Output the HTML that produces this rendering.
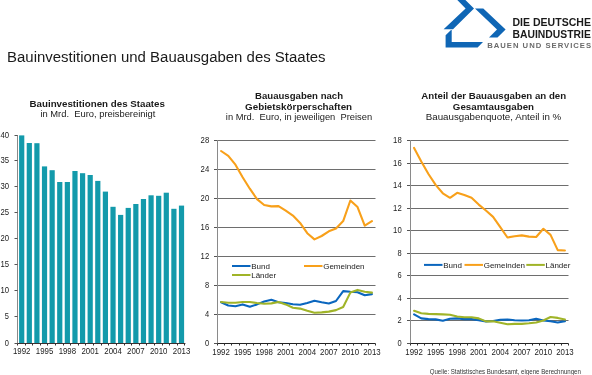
<!DOCTYPE html><html><head><meta charset="utf-8"><style>html,body{margin:0;padding:0;background:#fff;width:592px;height:375px;overflow:hidden}svg{display:block;will-change:transform}text{font-family:"Liberation Sans",sans-serif}</style></head><body>
<svg width="592" height="375" viewBox="0 0 592 375">
<rect width="592" height="375" fill="#fff"/>
<g fill="#0f66b5">
<polygon points="457.3,0 465.4,0 474,8.4 453,29.2 443.6,29.2 465.6,8.4"/>
<polygon points="475,8.4 483.3,8.4 505.6,29.6 497.5,37.6 489,37.6 497,29.6"/>
<polygon points="445.6,35.3 451,30 451.7,30 451.7,42 483,42 477.6,47.6 445.6,47.6"/>
</g>
<text x="512.5" y="26.4" font-size="11" fill="#1a1a1a" font-weight="bold" textLength="78.41" lengthAdjust="spacingAndGlyphs">DIE DEUTSCHE</text>
<text x="512.5" y="37.6" font-size="11" fill="#1a1a1a" font-weight="bold" textLength="78.31" lengthAdjust="spacingAndGlyphs">BAUINDUSTRIE</text>
<text x="487.18" y="47.6" font-size="7.7" fill="#6b6b6b" font-weight="bold" textLength="103.92" lengthAdjust="spacing">BAUEN UND SERVICES</text>
<text x="7.05" y="62" font-size="14" fill="#1a1a1a" textLength="318.55" lengthAdjust="spacingAndGlyphs">Bauinvestitionen und Bauausgaben des Staates</text>
<text x="29.55" y="106.6" font-size="9.5" fill="#1a1a1a" font-weight="bold" textLength="135.38" lengthAdjust="spacingAndGlyphs">Bauinvestitionen des Staates</text>
<text x="40.4" y="117.4" font-size="9.5" fill="#1a1a1a" textLength="114.99" lengthAdjust="spacingAndGlyphs">in Mrd.&#160; Euro, preisbereinigt</text>
<text x="255.05" y="99" font-size="9.5" fill="#1a1a1a" font-weight="bold" textLength="87.99" lengthAdjust="spacingAndGlyphs">Bauausgaben nach</text>
<text x="245.02" y="109.6" font-size="9.5" fill="#1a1a1a" font-weight="bold" textLength="107.1" lengthAdjust="spacingAndGlyphs">Gebietskörperschaften</text>
<text x="225.85" y="119.9" font-size="9.5" fill="#1a1a1a" textLength="146.27" lengthAdjust="spacingAndGlyphs">in Mrd.&#160; Euro, in jeweiligen&#160; Preisen</text>
<text x="421.38" y="99.2" font-size="9.5" fill="#1a1a1a" font-weight="bold" textLength="144.74" lengthAdjust="spacingAndGlyphs">Anteil der Bauausgaben an den</text>
<text x="452.87" y="109.7" font-size="9.5" fill="#1a1a1a" font-weight="bold" textLength="81.15" lengthAdjust="spacingAndGlyphs">Gesamtausgaben</text>
<text x="425.72" y="120.1" font-size="9.5" fill="#1a1a1a" textLength="135.5" lengthAdjust="spacingAndGlyphs">Bauausgabenquote, Anteil in %</text>
<text x="429.72" y="373.5" font-size="6.3" fill="#333" textLength="151.21" lengthAdjust="spacingAndGlyphs">Quelle: Statistisches Bundesamt, eigene Berechnungen</text>
<rect x="19.1" y="135.4" width="5.2" height="208.1" fill="#139aab"/>
<rect x="26.71" y="143" width="5.2" height="200.5" fill="#139aab"/>
<rect x="34.32" y="143.2" width="5.2" height="200.3" fill="#139aab"/>
<rect x="41.93" y="166.4" width="5.2" height="177.1" fill="#139aab"/>
<rect x="49.54" y="170.2" width="5.2" height="173.3" fill="#139aab"/>
<rect x="57.15" y="182" width="5.2" height="161.5" fill="#139aab"/>
<rect x="64.76" y="182" width="5.2" height="161.5" fill="#139aab"/>
<rect x="72.37" y="171" width="5.2" height="172.5" fill="#139aab"/>
<rect x="79.98" y="173.2" width="5.2" height="170.3" fill="#139aab"/>
<rect x="87.59" y="175" width="5.2" height="168.5" fill="#139aab"/>
<rect x="95.2" y="180.9" width="5.2" height="162.6" fill="#139aab"/>
<rect x="102.81" y="191.6" width="5.2" height="151.9" fill="#139aab"/>
<rect x="110.42" y="206.8" width="5.2" height="136.7" fill="#139aab"/>
<rect x="118.03" y="214.9" width="5.2" height="128.6" fill="#139aab"/>
<rect x="125.64" y="207.9" width="5.2" height="135.6" fill="#139aab"/>
<rect x="133.25" y="204" width="5.2" height="139.5" fill="#139aab"/>
<rect x="140.86" y="199" width="5.2" height="144.5" fill="#139aab"/>
<rect x="148.47" y="195.3" width="5.2" height="148.2" fill="#139aab"/>
<rect x="156.08" y="195.8" width="5.2" height="147.7" fill="#139aab"/>
<rect x="163.69" y="192.7" width="5.2" height="150.8" fill="#139aab"/>
<rect x="171.3" y="208.8" width="5.2" height="134.7" fill="#139aab"/>
<rect x="178.91" y="205.6" width="5.2" height="137.9" fill="#139aab"/>
<line x1="17.5" y1="135" x2="17.5" y2="343.5" stroke="#8a8a8a" stroke-width="1"/>
<line x1="17.5" y1="343.5" x2="185.42" y2="343.5" stroke="#3a3030" stroke-width="1"/>
<line x1="14.5" y1="343.5" x2="17.5" y2="343.5" stroke="#555" stroke-width="1"/>
<text x="9" y="346.4" font-size="8.6" text-anchor="end" fill="#222" textLength="4.15" lengthAdjust="spacingAndGlyphs">0</text>
<line x1="14.5" y1="316.5" x2="17.5" y2="316.5" stroke="#555" stroke-width="1"/>
<text x="9" y="319.4" font-size="8.6" text-anchor="end" fill="#222" textLength="4.15" lengthAdjust="spacingAndGlyphs">5</text>
<line x1="14.5" y1="290.5" x2="17.5" y2="290.5" stroke="#555" stroke-width="1"/>
<text x="9" y="293.4" font-size="8.6" text-anchor="end" fill="#222" textLength="8.6" lengthAdjust="spacingAndGlyphs">10</text>
<line x1="14.5" y1="264.5" x2="17.5" y2="264.5" stroke="#555" stroke-width="1"/>
<text x="9" y="267.4" font-size="8.6" text-anchor="end" fill="#222" textLength="8.6" lengthAdjust="spacingAndGlyphs">15</text>
<line x1="14.5" y1="238.5" x2="17.5" y2="238.5" stroke="#555" stroke-width="1"/>
<text x="9" y="241.4" font-size="8.6" text-anchor="end" fill="#222" textLength="8.6" lengthAdjust="spacingAndGlyphs">20</text>
<line x1="14.5" y1="212.5" x2="17.5" y2="212.5" stroke="#555" stroke-width="1"/>
<text x="9" y="215.4" font-size="8.6" text-anchor="end" fill="#222" textLength="8.6" lengthAdjust="spacingAndGlyphs">25</text>
<line x1="14.5" y1="186.5" x2="17.5" y2="186.5" stroke="#555" stroke-width="1"/>
<text x="9" y="189.4" font-size="8.6" text-anchor="end" fill="#222" textLength="8.6" lengthAdjust="spacingAndGlyphs">30</text>
<line x1="14.5" y1="160.5" x2="17.5" y2="160.5" stroke="#555" stroke-width="1"/>
<text x="9" y="163.4" font-size="8.6" text-anchor="end" fill="#222" textLength="8.6" lengthAdjust="spacingAndGlyphs">35</text>
<line x1="14.5" y1="135.5" x2="17.5" y2="135.5" stroke="#555" stroke-width="1"/>
<text x="9" y="138.4" font-size="8.6" text-anchor="end" fill="#222" textLength="8.6" lengthAdjust="spacingAndGlyphs">40</text>
<line x1="17.5" y1="343.5" x2="17.5" y2="345.5" stroke="#3a3030" stroke-width="1"/>
<line x1="25.5" y1="343.5" x2="25.5" y2="345.5" stroke="#3a3030" stroke-width="1"/>
<line x1="32.5" y1="343.5" x2="32.5" y2="345.5" stroke="#3a3030" stroke-width="1"/>
<line x1="40.5" y1="343.5" x2="40.5" y2="345.5" stroke="#3a3030" stroke-width="1"/>
<line x1="47.5" y1="343.5" x2="47.5" y2="345.5" stroke="#3a3030" stroke-width="1"/>
<line x1="55.5" y1="343.5" x2="55.5" y2="345.5" stroke="#3a3030" stroke-width="1"/>
<line x1="63.5" y1="343.5" x2="63.5" y2="345.5" stroke="#3a3030" stroke-width="1"/>
<line x1="70.5" y1="343.5" x2="70.5" y2="345.5" stroke="#3a3030" stroke-width="1"/>
<line x1="78.5" y1="343.5" x2="78.5" y2="345.5" stroke="#3a3030" stroke-width="1"/>
<line x1="85.5" y1="343.5" x2="85.5" y2="345.5" stroke="#3a3030" stroke-width="1"/>
<line x1="93.5" y1="343.5" x2="93.5" y2="345.5" stroke="#3a3030" stroke-width="1"/>
<line x1="101.5" y1="343.5" x2="101.5" y2="345.5" stroke="#3a3030" stroke-width="1"/>
<line x1="108.5" y1="343.5" x2="108.5" y2="345.5" stroke="#3a3030" stroke-width="1"/>
<line x1="116.5" y1="343.5" x2="116.5" y2="345.5" stroke="#3a3030" stroke-width="1"/>
<line x1="124.5" y1="343.5" x2="124.5" y2="345.5" stroke="#3a3030" stroke-width="1"/>
<line x1="131.5" y1="343.5" x2="131.5" y2="345.5" stroke="#3a3030" stroke-width="1"/>
<line x1="139.5" y1="343.5" x2="139.5" y2="345.5" stroke="#3a3030" stroke-width="1"/>
<line x1="146.5" y1="343.5" x2="146.5" y2="345.5" stroke="#3a3030" stroke-width="1"/>
<line x1="154.5" y1="343.5" x2="154.5" y2="345.5" stroke="#3a3030" stroke-width="1"/>
<line x1="162.5" y1="343.5" x2="162.5" y2="345.5" stroke="#3a3030" stroke-width="1"/>
<line x1="169.5" y1="343.5" x2="169.5" y2="345.5" stroke="#3a3030" stroke-width="1"/>
<line x1="177.5" y1="343.5" x2="177.5" y2="345.5" stroke="#3a3030" stroke-width="1"/>
<line x1="184.5" y1="343.5" x2="184.5" y2="345.5" stroke="#3a3030" stroke-width="1"/>
<text x="21.7" y="354.2" font-size="8.6" text-anchor="middle" fill="#222" textLength="17.49" lengthAdjust="spacingAndGlyphs">1992</text>
<text x="44.54" y="354.2" font-size="8.6" text-anchor="middle" fill="#222" textLength="17.49" lengthAdjust="spacingAndGlyphs">1995</text>
<text x="67.37" y="354.2" font-size="8.6" text-anchor="middle" fill="#222" textLength="17.49" lengthAdjust="spacingAndGlyphs">1998</text>
<text x="90.2" y="354.2" font-size="8.6" text-anchor="middle" fill="#222" textLength="17.49" lengthAdjust="spacingAndGlyphs">2001</text>
<text x="113.03" y="354.2" font-size="8.6" text-anchor="middle" fill="#222" textLength="17.49" lengthAdjust="spacingAndGlyphs">2004</text>
<text x="135.85" y="354.2" font-size="8.6" text-anchor="middle" fill="#222" textLength="17.49" lengthAdjust="spacingAndGlyphs">2007</text>
<text x="158.69" y="354.2" font-size="8.6" text-anchor="middle" fill="#222" textLength="17.49" lengthAdjust="spacingAndGlyphs">2010</text>
<text x="181.52" y="354.2" font-size="8.6" text-anchor="middle" fill="#222" textLength="17.49" lengthAdjust="spacingAndGlyphs">2013</text>
<line x1="217.5" y1="314.5" x2="375.5" y2="314.5" stroke="#6e6e6e" stroke-width="1"/>
<line x1="217.5" y1="285.5" x2="375.5" y2="285.5" stroke="#6e6e6e" stroke-width="1"/>
<line x1="217.5" y1="256.5" x2="375.5" y2="256.5" stroke="#6e6e6e" stroke-width="1"/>
<line x1="217.5" y1="227.5" x2="375.5" y2="227.5" stroke="#6e6e6e" stroke-width="1"/>
<line x1="217.5" y1="198.5" x2="375.5" y2="198.5" stroke="#6e6e6e" stroke-width="1"/>
<line x1="217.5" y1="169.5" x2="375.5" y2="169.5" stroke="#6e6e6e" stroke-width="1"/>
<line x1="217.5" y1="140.5" x2="375.5" y2="140.5" stroke="#6e6e6e" stroke-width="1"/>
<line x1="214" y1="343.5" x2="217.5" y2="343.5" stroke="#555" stroke-width="1"/>
<text x="209.2" y="346.3" font-size="8.6" text-anchor="end" fill="#222" textLength="4.15" lengthAdjust="spacingAndGlyphs">0</text>
<line x1="214" y1="314.5" x2="217.5" y2="314.5" stroke="#555" stroke-width="1"/>
<text x="209.2" y="317.3" font-size="8.6" text-anchor="end" fill="#222" textLength="4.15" lengthAdjust="spacingAndGlyphs">4</text>
<line x1="214" y1="285.5" x2="217.5" y2="285.5" stroke="#555" stroke-width="1"/>
<text x="209.2" y="288.3" font-size="8.6" text-anchor="end" fill="#222" textLength="4.15" lengthAdjust="spacingAndGlyphs">8</text>
<line x1="214" y1="256.5" x2="217.5" y2="256.5" stroke="#555" stroke-width="1"/>
<text x="209.2" y="259.3" font-size="8.6" text-anchor="end" fill="#222" textLength="8.6" lengthAdjust="spacingAndGlyphs">12</text>
<line x1="214" y1="227.5" x2="217.5" y2="227.5" stroke="#555" stroke-width="1"/>
<text x="209.2" y="230.3" font-size="8.6" text-anchor="end" fill="#222" textLength="8.6" lengthAdjust="spacingAndGlyphs">16</text>
<line x1="214" y1="198.5" x2="217.5" y2="198.5" stroke="#555" stroke-width="1"/>
<text x="209.2" y="201.3" font-size="8.6" text-anchor="end" fill="#222" textLength="8.6" lengthAdjust="spacingAndGlyphs">20</text>
<line x1="214" y1="169.5" x2="217.5" y2="169.5" stroke="#555" stroke-width="1"/>
<text x="209.2" y="172.3" font-size="8.6" text-anchor="end" fill="#222" textLength="8.6" lengthAdjust="spacingAndGlyphs">24</text>
<line x1="214" y1="140.5" x2="217.5" y2="140.5" stroke="#555" stroke-width="1"/>
<text x="209.2" y="143.3" font-size="8.6" text-anchor="end" fill="#222" textLength="8.6" lengthAdjust="spacingAndGlyphs">28</text>
<line x1="217.5" y1="140.5" x2="217.5" y2="343.5" stroke="#8a8a8a" stroke-width="1"/>
<line x1="217.5" y1="343.5" x2="375.5" y2="343.5" stroke="#222" stroke-width="1"/>
<line x1="217.5" y1="343.5" x2="217.5" y2="345.5" stroke="#333" stroke-width="1"/>
<line x1="224.5" y1="343.5" x2="224.5" y2="345.5" stroke="#333" stroke-width="1"/>
<line x1="231.5" y1="343.5" x2="231.5" y2="345.5" stroke="#333" stroke-width="1"/>
<line x1="239.5" y1="343.5" x2="239.5" y2="345.5" stroke="#333" stroke-width="1"/>
<line x1="246.5" y1="343.5" x2="246.5" y2="345.5" stroke="#333" stroke-width="1"/>
<line x1="253.5" y1="343.5" x2="253.5" y2="345.5" stroke="#333" stroke-width="1"/>
<line x1="260.5" y1="343.5" x2="260.5" y2="345.5" stroke="#333" stroke-width="1"/>
<line x1="267.5" y1="343.5" x2="267.5" y2="345.5" stroke="#333" stroke-width="1"/>
<line x1="274.5" y1="343.5" x2="274.5" y2="345.5" stroke="#333" stroke-width="1"/>
<line x1="282.5" y1="343.5" x2="282.5" y2="345.5" stroke="#333" stroke-width="1"/>
<line x1="289.5" y1="343.5" x2="289.5" y2="345.5" stroke="#333" stroke-width="1"/>
<line x1="296.5" y1="343.5" x2="296.5" y2="345.5" stroke="#333" stroke-width="1"/>
<line x1="303.5" y1="343.5" x2="303.5" y2="345.5" stroke="#333" stroke-width="1"/>
<line x1="310.5" y1="343.5" x2="310.5" y2="345.5" stroke="#333" stroke-width="1"/>
<line x1="318.5" y1="343.5" x2="318.5" y2="345.5" stroke="#333" stroke-width="1"/>
<line x1="325.5" y1="343.5" x2="325.5" y2="345.5" stroke="#333" stroke-width="1"/>
<line x1="332.5" y1="343.5" x2="332.5" y2="345.5" stroke="#333" stroke-width="1"/>
<line x1="339.5" y1="343.5" x2="339.5" y2="345.5" stroke="#333" stroke-width="1"/>
<line x1="346.5" y1="343.5" x2="346.5" y2="345.5" stroke="#333" stroke-width="1"/>
<line x1="353.5" y1="343.5" x2="353.5" y2="345.5" stroke="#333" stroke-width="1"/>
<line x1="361.5" y1="343.5" x2="361.5" y2="345.5" stroke="#333" stroke-width="1"/>
<line x1="368.5" y1="343.5" x2="368.5" y2="345.5" stroke="#333" stroke-width="1"/>
<line x1="375.5" y1="343.5" x2="375.5" y2="345.5" stroke="#333" stroke-width="1"/>
<text x="221.09" y="354.7" font-size="8.6" text-anchor="middle" fill="#222" textLength="17.49" lengthAdjust="spacingAndGlyphs">1992</text>
<text x="242.64" y="354.7" font-size="8.6" text-anchor="middle" fill="#222" textLength="17.49" lengthAdjust="spacingAndGlyphs">1995</text>
<text x="264.18" y="354.7" font-size="8.6" text-anchor="middle" fill="#222" textLength="17.49" lengthAdjust="spacingAndGlyphs">1998</text>
<text x="285.73" y="354.7" font-size="8.6" text-anchor="middle" fill="#222" textLength="17.49" lengthAdjust="spacingAndGlyphs">2001</text>
<text x="307.27" y="354.7" font-size="8.6" text-anchor="middle" fill="#222" textLength="17.49" lengthAdjust="spacingAndGlyphs">2004</text>
<text x="328.82" y="354.7" font-size="8.6" text-anchor="middle" fill="#222" textLength="17.49" lengthAdjust="spacingAndGlyphs">2007</text>
<text x="350.36" y="354.7" font-size="8.6" text-anchor="middle" fill="#222" textLength="17.49" lengthAdjust="spacingAndGlyphs">2010</text>
<text x="371.91" y="354.7" font-size="8.6" text-anchor="middle" fill="#222" textLength="17.49" lengthAdjust="spacingAndGlyphs">2013</text>
<line x1="232" y1="266" x2="250.5" y2="266" stroke="#0a66be" stroke-width="2"/>
<text x="251.2" y="268.6" font-size="8" fill="#222">Bund</text>
<line x1="304" y1="266" x2="322.5" y2="266" stroke="#f8a01a" stroke-width="2"/>
<text x="323.2" y="268.6" font-size="8" fill="#222">Gemeinden</text>
<line x1="232" y1="275" x2="250.5" y2="275" stroke="#a0b428" stroke-width="2"/>
<text x="251.2" y="277.6" font-size="8" fill="#222">Länder</text>
<path d="M221.09,302.2 C221.09,302.2 228.27,305.5 228.27,305.5 C228.27,305.5 235.45,306.2 235.45,306.2 C235.45,306.2 242.64,304.4 242.64,304.4 C242.64,304.4 249.82,306.8 249.82,306.8 C249.82,306.8 257,304.4 257,304.4 C257,304.4 264.18,301.5 264.18,301.5 C264.18,301.5 271.36,299.8 271.36,299.8 C271.36,299.8 278.55,302.2 278.55,302.2 C278.55,302.2 285.73,303 285.73,303 C285.73,303 292.91,304.2 292.91,304.2 C292.91,304.2 300.09,304.8 300.09,304.8 C300.09,304.8 307.27,302.9 307.27,302.9 C307.27,302.9 314.45,300.7 314.45,300.7 C314.45,300.7 321.64,302.2 321.64,302.2 C321.64,302.2 328.82,303.5 328.82,303.5 C328.82,303.5 336,301 336,301 C336,301 343.18,291.1 343.18,291.1 C343.18,291.1 350.36,291.8 350.36,291.8 C350.36,291.8 357.55,292.3 357.55,292.3 C357.55,292.3 364.73,295.3 364.73,295.3 C364.73,295.3 371.91,294.1 371.91,294.1" fill="none" stroke="#0a66be" stroke-width="2.1" stroke-linejoin="round" stroke-linecap="round"/>
<path d="M221.09,151 C221.09,151 228.27,155.8 228.27,155.8 C228.27,155.8 235.45,164.7 235.45,164.7 C235.45,164.7 242.64,177.2 242.64,177.2 C242.64,177.2 249.82,188.7 249.82,188.7 C249.82,188.7 257,199.1 257,199.1 C257,199.1 264.18,205 264.18,205 C264.18,205 271.36,206.4 271.36,206.4 C271.36,206.4 278.55,206.1 278.55,206.1 C278.55,206.1 285.73,210.6 285.73,210.6 C285.73,210.6 292.91,215.6 292.91,215.6 C292.91,215.6 300.09,222.9 300.09,222.9 C300.09,222.9 307.27,233.2 307.27,233.2 C307.27,233.2 314.45,239.4 314.45,239.4 C314.45,239.4 321.64,236 321.64,236 C321.64,236 328.82,231.3 328.82,231.3 C328.82,231.3 336,228.5 336,228.5 C336,228.5 343.18,221.1 343.18,221.1 C343.18,221.1 350.36,200.5 350.36,200.5 C350.36,200.5 357.55,207.1 357.55,207.1 C357.55,207.1 364.73,225.7 364.73,225.7 C364.73,225.7 371.91,221.1 371.91,221.1" fill="none" stroke="#f8a01a" stroke-width="2.1" stroke-linejoin="round" stroke-linecap="round"/>
<path d="M221.09,302 C221.09,302 228.27,302.7 228.27,302.7 C228.27,302.7 235.45,302.7 235.45,302.7 C235.45,302.7 242.64,302 242.64,302 C242.64,302 249.82,302 249.82,302 C249.82,302 257,303 257,303 C257,303 264.18,303.7 264.18,303.7 C264.18,303.7 271.36,303.4 271.36,303.4 C271.36,303.4 278.55,302 278.55,302 C278.55,302 285.73,304.4 285.73,304.4 C285.73,304.4 292.91,307.7 292.91,307.7 C292.91,307.7 300.09,308.6 300.09,308.6 C300.09,308.6 307.27,310.8 307.27,310.8 C307.27,310.8 314.45,312.7 314.45,312.7 C314.45,312.7 321.64,312.4 321.64,312.4 C321.64,312.4 328.82,311.6 328.82,311.6 C328.82,311.6 336,310.1 336,310.1 C336,310.1 343.18,307 343.18,307 C343.18,307 350.36,292.6 350.36,292.6 C350.36,292.6 357.55,289.9 357.55,289.9 C357.55,289.9 364.73,291.8 364.73,291.8 C364.73,291.8 371.91,292.6 371.91,292.6" fill="none" stroke="#a0b428" stroke-width="2.1" stroke-linejoin="round" stroke-linecap="round"/>
<line x1="410.5" y1="320.5" x2="568.5" y2="320.5" stroke="#6e6e6e" stroke-width="1"/>
<line x1="410.5" y1="298.5" x2="568.5" y2="298.5" stroke="#6e6e6e" stroke-width="1"/>
<line x1="410.5" y1="275.5" x2="568.5" y2="275.5" stroke="#6e6e6e" stroke-width="1"/>
<line x1="410.5" y1="253.5" x2="568.5" y2="253.5" stroke="#6e6e6e" stroke-width="1"/>
<line x1="410.5" y1="230.5" x2="568.5" y2="230.5" stroke="#6e6e6e" stroke-width="1"/>
<line x1="410.5" y1="208.5" x2="568.5" y2="208.5" stroke="#6e6e6e" stroke-width="1"/>
<line x1="410.5" y1="185.5" x2="568.5" y2="185.5" stroke="#6e6e6e" stroke-width="1"/>
<line x1="410.5" y1="163.5" x2="568.5" y2="163.5" stroke="#6e6e6e" stroke-width="1"/>
<line x1="410.5" y1="140.5" x2="568.5" y2="140.5" stroke="#6e6e6e" stroke-width="1"/>
<line x1="407" y1="343.5" x2="410.5" y2="343.5" stroke="#555" stroke-width="1"/>
<text x="401.7" y="346.3" font-size="8.6" text-anchor="end" fill="#222" textLength="4.15" lengthAdjust="spacingAndGlyphs">0</text>
<line x1="407" y1="320.5" x2="410.5" y2="320.5" stroke="#555" stroke-width="1"/>
<text x="401.7" y="323.3" font-size="8.6" text-anchor="end" fill="#222" textLength="4.15" lengthAdjust="spacingAndGlyphs">2</text>
<line x1="407" y1="298.5" x2="410.5" y2="298.5" stroke="#555" stroke-width="1"/>
<text x="401.7" y="301.3" font-size="8.6" text-anchor="end" fill="#222" textLength="4.15" lengthAdjust="spacingAndGlyphs">4</text>
<line x1="407" y1="275.5" x2="410.5" y2="275.5" stroke="#555" stroke-width="1"/>
<text x="401.7" y="278.3" font-size="8.6" text-anchor="end" fill="#222" textLength="4.15" lengthAdjust="spacingAndGlyphs">6</text>
<line x1="407" y1="253.5" x2="410.5" y2="253.5" stroke="#555" stroke-width="1"/>
<text x="401.7" y="256.3" font-size="8.6" text-anchor="end" fill="#222" textLength="4.15" lengthAdjust="spacingAndGlyphs">8</text>
<line x1="407" y1="230.5" x2="410.5" y2="230.5" stroke="#555" stroke-width="1"/>
<text x="401.7" y="233.3" font-size="8.6" text-anchor="end" fill="#222" textLength="8.6" lengthAdjust="spacingAndGlyphs">10</text>
<line x1="407" y1="208.5" x2="410.5" y2="208.5" stroke="#555" stroke-width="1"/>
<text x="401.7" y="211.3" font-size="8.6" text-anchor="end" fill="#222" textLength="8.6" lengthAdjust="spacingAndGlyphs">12</text>
<line x1="407" y1="185.5" x2="410.5" y2="185.5" stroke="#555" stroke-width="1"/>
<text x="401.7" y="188.3" font-size="8.6" text-anchor="end" fill="#222" textLength="8.6" lengthAdjust="spacingAndGlyphs">14</text>
<line x1="407" y1="163.5" x2="410.5" y2="163.5" stroke="#555" stroke-width="1"/>
<text x="401.7" y="166.3" font-size="8.6" text-anchor="end" fill="#222" textLength="8.6" lengthAdjust="spacingAndGlyphs">16</text>
<line x1="407" y1="140.5" x2="410.5" y2="140.5" stroke="#555" stroke-width="1"/>
<text x="401.7" y="143.3" font-size="8.6" text-anchor="end" fill="#222" textLength="8.6" lengthAdjust="spacingAndGlyphs">18</text>
<line x1="410.5" y1="140.5" x2="410.5" y2="343.5" stroke="#8a8a8a" stroke-width="1"/>
<line x1="410.5" y1="343.5" x2="568.5" y2="343.5" stroke="#222" stroke-width="1"/>
<line x1="410.5" y1="343.5" x2="410.5" y2="345.5" stroke="#333" stroke-width="1"/>
<line x1="417.5" y1="343.5" x2="417.5" y2="345.5" stroke="#333" stroke-width="1"/>
<line x1="424.5" y1="343.5" x2="424.5" y2="345.5" stroke="#333" stroke-width="1"/>
<line x1="432.5" y1="343.5" x2="432.5" y2="345.5" stroke="#333" stroke-width="1"/>
<line x1="439.5" y1="343.5" x2="439.5" y2="345.5" stroke="#333" stroke-width="1"/>
<line x1="446.5" y1="343.5" x2="446.5" y2="345.5" stroke="#333" stroke-width="1"/>
<line x1="453.5" y1="343.5" x2="453.5" y2="345.5" stroke="#333" stroke-width="1"/>
<line x1="460.5" y1="343.5" x2="460.5" y2="345.5" stroke="#333" stroke-width="1"/>
<line x1="467.5" y1="343.5" x2="467.5" y2="345.5" stroke="#333" stroke-width="1"/>
<line x1="475.5" y1="343.5" x2="475.5" y2="345.5" stroke="#333" stroke-width="1"/>
<line x1="482.5" y1="343.5" x2="482.5" y2="345.5" stroke="#333" stroke-width="1"/>
<line x1="489.5" y1="343.5" x2="489.5" y2="345.5" stroke="#333" stroke-width="1"/>
<line x1="496.5" y1="343.5" x2="496.5" y2="345.5" stroke="#333" stroke-width="1"/>
<line x1="503.5" y1="343.5" x2="503.5" y2="345.5" stroke="#333" stroke-width="1"/>
<line x1="511.5" y1="343.5" x2="511.5" y2="345.5" stroke="#333" stroke-width="1"/>
<line x1="518.5" y1="343.5" x2="518.5" y2="345.5" stroke="#333" stroke-width="1"/>
<line x1="525.5" y1="343.5" x2="525.5" y2="345.5" stroke="#333" stroke-width="1"/>
<line x1="532.5" y1="343.5" x2="532.5" y2="345.5" stroke="#333" stroke-width="1"/>
<line x1="539.5" y1="343.5" x2="539.5" y2="345.5" stroke="#333" stroke-width="1"/>
<line x1="546.5" y1="343.5" x2="546.5" y2="345.5" stroke="#333" stroke-width="1"/>
<line x1="554.5" y1="343.5" x2="554.5" y2="345.5" stroke="#333" stroke-width="1"/>
<line x1="561.5" y1="343.5" x2="561.5" y2="345.5" stroke="#333" stroke-width="1"/>
<line x1="568.5" y1="343.5" x2="568.5" y2="345.5" stroke="#333" stroke-width="1"/>
<text x="414.09" y="354.7" font-size="8.6" text-anchor="middle" fill="#222" textLength="17.49" lengthAdjust="spacingAndGlyphs">1992</text>
<text x="435.64" y="354.7" font-size="8.6" text-anchor="middle" fill="#222" textLength="17.49" lengthAdjust="spacingAndGlyphs">1995</text>
<text x="457.18" y="354.7" font-size="8.6" text-anchor="middle" fill="#222" textLength="17.49" lengthAdjust="spacingAndGlyphs">1998</text>
<text x="478.73" y="354.7" font-size="8.6" text-anchor="middle" fill="#222" textLength="17.49" lengthAdjust="spacingAndGlyphs">2001</text>
<text x="500.27" y="354.7" font-size="8.6" text-anchor="middle" fill="#222" textLength="17.49" lengthAdjust="spacingAndGlyphs">2004</text>
<text x="521.82" y="354.7" font-size="8.6" text-anchor="middle" fill="#222" textLength="17.49" lengthAdjust="spacingAndGlyphs">2007</text>
<text x="543.36" y="354.7" font-size="8.6" text-anchor="middle" fill="#222" textLength="17.49" lengthAdjust="spacingAndGlyphs">2010</text>
<text x="564.91" y="354.7" font-size="8.6" text-anchor="middle" fill="#222" textLength="17.49" lengthAdjust="spacingAndGlyphs">2013</text>
<line x1="424" y1="264.9" x2="442.5" y2="264.9" stroke="#0a66be" stroke-width="2"/>
<text x="443.2" y="267.5" font-size="8" fill="#222">Bund</text>
<line x1="464.5" y1="264.9" x2="483.0" y2="264.9" stroke="#f8a01a" stroke-width="2"/>
<text x="483.7" y="267.5" font-size="8" fill="#222">Gemeinden</text>
<line x1="526.3" y1="264.9" x2="544.8" y2="264.9" stroke="#a0b428" stroke-width="2"/>
<text x="545.5" y="267.5" font-size="8" fill="#222">Länder</text>
<path d="M414.09,314.4 C414.09,314.4 421.27,318.4 421.27,318.4 C421.27,318.4 428.45,319.1 428.45,319.1 C428.45,319.1 435.64,319.4 435.64,319.4 C435.64,319.4 442.82,320.8 442.82,320.8 C442.82,320.8 450,318.7 450,318.7 C450,318.7 457.18,318.4 457.18,318.4 C457.18,318.4 464.36,319.1 464.36,319.1 C464.36,319.1 471.55,319.1 471.55,319.1 C471.55,319.1 478.73,320.1 478.73,320.1 C478.73,320.1 485.91,321.4 485.91,321.4 C485.91,321.4 493.09,321 493.09,321 C493.09,321 500.27,319.8 500.27,319.8 C500.27,319.8 507.45,319.5 507.45,319.5 C507.45,319.5 514.64,320.2 514.64,320.2 C514.64,320.2 521.82,320.5 521.82,320.5 C521.82,320.5 529,320.2 529,320.2 C529,320.2 536.18,318.7 536.18,318.7 C536.18,318.7 543.36,320.5 543.36,320.5 C543.36,320.5 550.55,321.3 550.55,321.3 C550.55,321.3 557.73,322.5 557.73,322.5 C557.73,322.5 564.91,321.3 564.91,321.3" fill="none" stroke="#0a66be" stroke-width="2.1" stroke-linejoin="round" stroke-linecap="round"/>
<path d="M414.09,147.9 C414.09,147.9 421.27,161.5 421.27,161.5 C421.27,161.5 428.45,174 428.45,174 C428.45,174 435.64,184.9 435.64,184.9 C435.64,184.9 442.82,193.3 442.82,193.3 C442.82,193.3 450,197.8 450,197.8 C450,197.8 457.18,192.8 457.18,192.8 C457.18,192.8 464.36,195.1 464.36,195.1 C464.36,195.1 471.55,197.8 471.55,197.8 C471.55,197.8 478.73,204.6 478.73,204.6 C478.73,204.6 485.91,210.5 485.91,210.5 C485.91,210.5 493.09,216.9 493.09,216.9 C493.09,216.9 500.27,227.1 500.27,227.1 C500.27,227.1 507.45,237.5 507.45,237.5 C507.45,237.5 514.64,236.3 514.64,236.3 C514.64,236.3 521.82,235.4 521.82,235.4 C521.82,235.4 529,236.6 529,236.6 C529,236.6 536.18,237 536.18,237 C536.18,237 543.36,228.8 543.36,228.8 C543.36,228.8 550.55,234.9 550.55,234.9 C550.55,234.9 557.73,250.1 557.73,250.1 C557.73,250.1 564.91,250.5 564.91,250.5" fill="none" stroke="#f8a01a" stroke-width="2.1" stroke-linejoin="round" stroke-linecap="round"/>
<path d="M414.09,310.8 C414.09,310.8 421.27,313.2 421.27,313.2 C421.27,313.2 428.45,313.9 428.45,313.9 C428.45,313.9 435.64,314.1 435.64,314.1 C435.64,314.1 442.82,314.4 442.82,314.4 C442.82,314.4 450,314.8 450,314.8 C450,314.8 457.18,316.5 457.18,316.5 C457.18,316.5 464.36,317.2 464.36,317.2 C464.36,317.2 471.55,317.2 471.55,317.2 C471.55,317.2 478.73,318.4 478.73,318.4 C478.73,318.4 485.91,321.4 485.91,321.4 C485.91,321.4 493.09,321.3 493.09,321.3 C493.09,321.3 500.27,322.8 500.27,322.8 C500.27,322.8 507.45,324.3 507.45,324.3 C507.45,324.3 514.64,323.9 514.64,323.9 C514.64,323.9 521.82,323.9 521.82,323.9 C521.82,323.9 529,323.3 529,323.3 C529,323.3 536.18,322.5 536.18,322.5 C536.18,322.5 543.36,320.5 543.36,320.5 C543.36,320.5 550.55,317 550.55,317 C550.55,317 557.73,317.9 557.73,317.9 C557.73,317.9 564.91,319.5 564.91,319.5" fill="none" stroke="#a0b428" stroke-width="2.1" stroke-linejoin="round" stroke-linecap="round"/>
</svg></body></html>
